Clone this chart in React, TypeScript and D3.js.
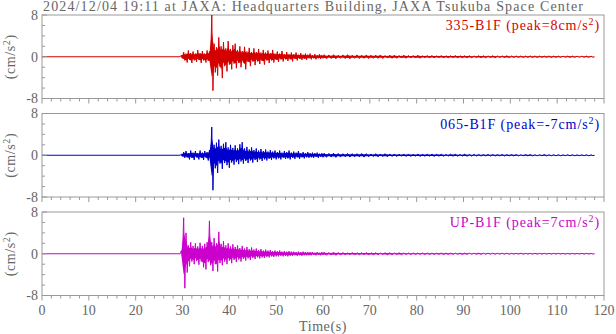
import React from 'react';
import * as d3 from 'd3';

// chart text
const title = '2024/12/04 19:11 at JAXA: Headquarters Building, JAXA Tsukuba Space Center';
const channels = ['335-B1F', '065-B1F', 'UP-B1F'];
const peaks = ['8', '-7', '7'];
const colors = ['#d40000', '#0000cc', '#cc00cc'];

const xTicks = [0, 10, 20, 30, 40, 50, 60, 70, 80, 90, 100, 110, 120];
const yTickLabels = [8, 0, -8];

// waveform max / min in 0.5 s bins, first bin centred on 29.75 s
const binStart = 29.75;
const binStep = 0.5;
const redHi = [
  0.3, 0.9, 0.6, 1.2, 0.7, 1.0, 0.6, 1.3, 0.7, 1.1, 0.6, 1.2, 1.0, 8.0, 2.5, 1.8, 3.7, 2.0, 2.8, 1.6,
  3.0, 1.5, 2.2, 2.5, 1.3, 2.0, 1.1, 1.9, 1.0, 1.7, 0.9, 1.6, 0.9, 1.5, 0.8, 1.3, 0.8, 1.2, 0.7, 1.3,
  0.6, 1.0, 0.6, 1.1, 0.5, 0.9, 0.5, 0.8, 0.5, 0.8, 0.4, 0.7, 0.4, 0.6, 0.4, 0.6, 0.3, 0.5, 0.3, 0.5, 0.3
];
const redLo = [
  -0.3, -0.7, -1.1, -0.6, -1.2, -0.7, -1.0, -0.6, -1.2, -0.7, -1.1, -0.8, -1.3, -6.5, -3.0, -3.6, -1.9, -4.1, -1.8, -2.8,
  -1.5, -2.4, -1.3, -2.2, -1.2, -2.0, -1.1, -2.4, -1.0, -1.8, -0.9, -1.6, -0.9, -1.4, -0.8, -1.5, -0.7, -1.2, -0.7, -1.1,
  -0.6, -1.0, -0.5, -0.9, -0.5, -0.8, -0.5, -0.9, -0.4, -0.7, -0.4, -0.6, -0.4, -0.6, -0.3, -0.5, -0.3, -0.5, -0.3, -0.4, -0.3
];
const blueHi = [
  0.2, 0.6, 0.8, 0.4, 0.9, 0.5, 0.8, 0.4, 0.9, 0.5, 0.8, 0.6, 1.0, 5.4, 2.0, 2.4, 3.0, 1.8, 2.2, 2.5,
  1.5, 2.0, 1.4, 1.9, 1.3, 2.1, 2.5, 1.3, 1.6, 1.1, 1.5, 1.0, 1.3, 0.9, 1.2, 0.8, 1.1, 0.7, 1.0, 0.7,
  0.9, 0.6, 0.9, 0.5, 0.8, 0.6, 0.9, 0.5, 0.7, 0.5, 0.8, 0.4, 0.6, 0.4, 0.6, 0.4, 0.5, 0.4, 0.5, 0.3, 0.4
];
const blueLo = [
  -0.2, -0.5, -0.4, -0.8, -0.5, -0.9, -0.4, -0.8, -0.5, -0.9, -0.4, -1.0, -0.7, -6.7, -2.5, -3.4, -1.6, -2.6, -1.5, -1.9,
  -2.4, -1.4, -1.8, -1.3, -1.7, -1.2, -1.6, -1.1, -1.5, -1.0, -1.4, -0.9, -1.3, -0.8, -1.1, -0.8, -1.0, -0.7, -0.9, -0.6,
  -0.8, -0.6, -0.8, -0.5, -0.7, -0.6, -0.8, -0.5, -0.7, -0.4, -0.7, -0.4, -0.6, -0.4, -0.5, -0.4, -0.5, -0.3, -0.5, -0.3, -0.4
];
const magHi = [
  0.6, 6.9, 4.0, 1.6, 2.2, 1.5, 2.0, 1.4, 2.1, 1.5, 1.9, 2.2, 6.3, 2.2, 3.0, 2.0, 4.2, 1.9, 2.4, 1.6,
  2.0, 1.4, 1.8, 1.3, 1.6, 1.1, 1.5, 1.0, 1.3, 0.9, 1.2, 0.8, 1.0, 0.7, 0.9, 0.6, 0.8, 0.6, 0.7, 0.5,
  0.6, 0.5, 0.6, 0.4, 0.5, 0.4, 0.5, 0.4, 0.4, 0.3, 0.4, 0.3, 0.4, 0.3, 0.3, 0.3, 0.3, 0.2, 0.3, 0.2, 0.3
];
const magLo = [
  -0.5, -6.6, -3.6, -2.4, -1.5, -2.0, -1.4, -2.1, -1.5, -2.6, -3.0, -1.6, -2.2, -3.3, -2.0, -3.4, -1.8, -2.2, -1.5, -2.0,
  -1.3, -1.8, -1.2, -1.6, -1.1, -1.5, -1.0, -1.3, -0.9, -1.2, -0.8, -1.0, -0.7, -0.9, -0.7, -0.8, -0.6, -0.7, -0.5, -0.6,
  -0.5, -0.5, -0.4, -0.5, -0.4, -0.5, -0.4, -0.4, -0.3, -0.4, -0.3, -0.4, -0.3, -0.3, -0.3, -0.3, -0.2, -0.3, -0.2, -0.3, -0.2
];

// coda amplitude, 1 s bins from 60.25 s
const tailStart = 60.25;
const tailStep = 1;
const redTail = [
  0.4, 0.35, 0.4, 0.3, 0.35, 0.4, 0.3, 0.35, 0.3, 0.35, 0.3, 0.3, 0.35, 0.25, 0.3, 0.3, 0.25, 0.3, 0.25, 0.25,
  0.3, 0.2, 0.25, 0.25, 0.2, 0.25, 0.2, 0.2, 0.25, 0.2, 0.2, 0.2, 0.15, 0.2, 0.2, 0.15, 0.2, 0.15, 0.15, 0.2,
  0.15, 0.15, 0.15, 0.12, 0.15, 0.15, 0.12, 0.12, 0.15, 0.12, 0.12, 0.1, 0.12, 0.12, 0.1, 0.1, 0.12, 0.1
];
const blueTail = [
  0.4, 0.35, 0.4, 0.35, 0.3, 0.35, 0.3, 0.3, 0.35, 0.3, 0.25, 0.3, 0.25, 0.3, 0.25, 0.25, 0.2, 0.25, 0.25, 0.2,
  0.25, 0.2, 0.2, 0.25, 0.2, 0.2, 0.15, 0.2, 0.2, 0.15, 0.2, 0.15, 0.15, 0.15, 0.12, 0.15, 0.15, 0.12, 0.15, 0.12,
  0.12, 0.12, 0.1, 0.12, 0.12, 0.1, 0.1, 0.12, 0.1, 0.1, 0.1, 0.08, 0.1, 0.1, 0.08, 0.08, 0.1, 0.08
];
const magTail = [
  0.3, 0.25, 0.3, 0.25, 0.25, 0.2, 0.25, 0.2, 0.2, 0.25, 0.2, 0.2, 0.15, 0.2, 0.2, 0.15, 0.2, 0.15, 0.15, 0.15,
  0.12, 0.15, 0.15, 0.12, 0.12, 0.15, 0.12, 0.12, 0.1, 0.12, 0.12, 0.1, 0.1, 0.12, 0.1, 0.1, 0.1, 0.08, 0.1, 0.1,
  0.08, 0.08, 0.1, 0.08, 0.08, 0.08, 0.07, 0.08, 0.08, 0.07, 0.07, 0.08, 0.07, 0.07, 0.06, 0.07, 0.07, 0.06
];

const his = [redHi, blueHi, magHi];
const los = [redLo, blueLo, magLo];
const tails = [redTail, blueTail, magTail];

const W = 616;
const H = 334;
const left = 42;
const right = 604;
const top = 15;
const panelH = 83.5;
const panelStep = 98.5;
const axisColor = '#999';
const textColor = '#666';
const font = '"Liberation Serif", "DejaVu Serif", serif';

type Bin = { t: number; hi: number; lo: number };

// every bin as time + max + min, event part then coda
const bins = (hi: number[], lo: number[], tail: number[]): Bin[] => [
  ...hi.map((h, i) => ({ t: binStart + i * binStep, hi: h, lo: lo[i] })),
  ...tail.map((a, i) => ({ t: tailStart + i * tailStep, hi: a, lo: -a })),
  { t: tailStart + tail.length * tailStep - 0.25, hi: 0, lo: 0 }
];

const App = () => {
  const x = d3.scaleLinear().domain([0, 120]).range([left, right]);
  const minorX = d3.range(0, 121, 2);
  const minorY = d3.range(-8, 9, 2);

  return (
    <svg width={W} height={H} style={{ position: 'absolute', left: 0, top: 0, background: '#fff' }}>
      <text
        x={43}
        y={11}
        fontFamily={font}
        fontSize={14}
        fill={textColor}
        textLength={540}
        lengthAdjust="spacing"
      >
        {title}
      </text>

      {channels.map((ch, k) => {
        const y0 = top + k * panelStep;
        const y = d3.scaleLinear().domain([-8, 8]).range([y0 + panelH, y0]).clamp(true);
        const data = bins(his[k], los[k], tails[k]);
        const area = d3
          .area<Bin>()
          .x(d => x(d.t))
          .y0(d => y(d.lo * 0.6))
          .y1(d => y(d.hi * 0.6));
        // zig-zag through max and min of each bin, after a flat pre-event record
        const zig: [number, number][] = [[0, 0], [binStart - 0.25, 0]];
        data.forEach((d, i) => {
          const next = data[i + 1];
          const half = next ? (next.t - d.t) / 2 : 0;
          zig.push([d.t, d.hi]);
          zig.push([d.t + half, d.lo]);
        });
        const line = d3
          .line<[number, number]>()
          .x(d => x(d[0]))
          .y(d => y(d[1]));
        const yMid = y(0);
        return (
          <g key={ch}>
            <rect
              x={left}
              y={y0}
              width={right - left}
              height={panelH}
              fill="none"
              stroke={axisColor}
              strokeWidth={1}
            />
            <path d={area(data) || ''} fill={colors[k]} stroke="none" />
            <path d={line(zig) || ''} fill="none" stroke={colors[k]} strokeWidth={1} />

            {minorX.map(v => (
              <line
                key={'x' + v}
                x1={x(v)}
                x2={x(v)}
                y1={y0 + panelH}
                y2={y0 + panelH + (v % 10 === 0 ? 5 : 3)}
                stroke={axisColor}
              />
            ))}
            {minorY.map(v => (
              <line
                key={'y' + v}
                x1={left}
                x2={left + (v % 8 === 0 ? 5 : 3)}
                y1={y(v)}
                y2={y(v)}
                stroke={axisColor}
              />
            ))}
            {yTickLabels.map(v => (
              <text
                key={'yl' + v}
                x={left - 4}
                y={y(v)}
                dy="0.35em"
                textAnchor="end"
                fontFamily={font}
                fontSize={14}
                fill={textColor}
              >
                {v}
              </text>
            ))}
            <text
              transform={`translate(15, ${yMid}) rotate(-90)`}
              textAnchor="middle"
              fontFamily={font}
              fontSize={14}
              letterSpacing={0.6}
              fill={textColor}
            >
              (cm/s<tspan dy={-5} fontSize={10}>2</tspan>
              <tspan dy={5}>)</tspan>
            </text>
            <text
              x={600}
              y={y0 + 15}
              textAnchor="end"
              fontFamily={font}
              fontSize={14}
              letterSpacing={0.9}
              fill={colors[k]}
            >
              {ch} (peak={peaks[k]}cm/s<tspan dy={-5} fontSize={10}>2</tspan>
              <tspan dy={5}>)</tspan>
            </text>
          </g>
        );
      })}

      {xTicks.map(v => (
        <text
          key={'xl' + v}
          x={x(v)}
          y={315}
          textAnchor="middle"
          fontFamily={font}
          fontSize={14}
          fill={textColor}
        >
          {v}
        </text>
      ))}
      <text
        x={323}
        y={331}
        textAnchor="middle"
        fontFamily={font}
        fontSize={14}
        letterSpacing={0.6}
        fill={textColor}
      >
        Time(s)
      </text>
    </svg>
  );
};

export default App;
